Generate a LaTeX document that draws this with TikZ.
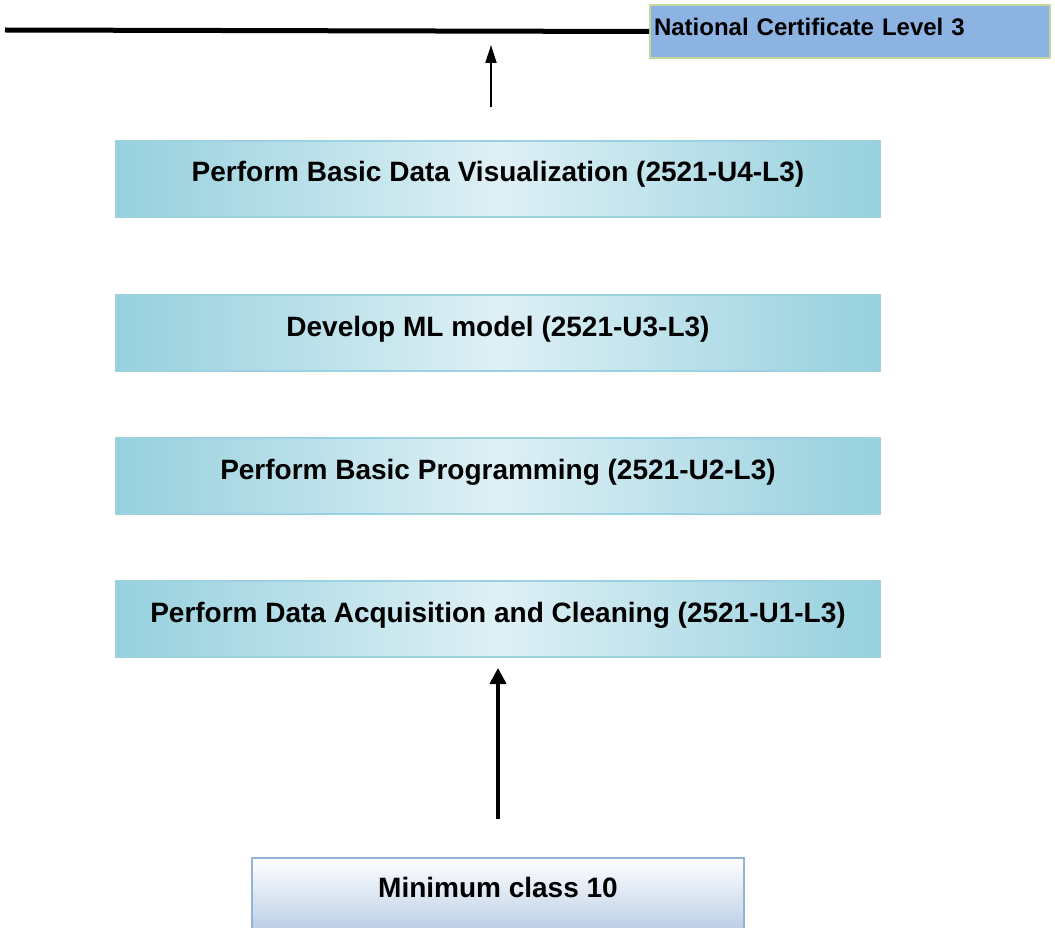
\documentclass[tikz,border=0pt]{standalone}
\usepackage{fontspec}
\setmainfont{Liberation Sans}
\usetikzlibrary{arrows.meta, positioning}
\definecolor{unitedge}{RGB}{150, 208, 222}
\definecolor{unitmid}{RGB}{222, 240, 245}
\definecolor{unitline}{RGB}{156, 210, 224}
\definecolor{certfill}{RGB}{141, 179, 226}
\definecolor{certline}{RGB}{195, 214, 155}
\definecolor{entryfill}{RGB}{185, 205, 229}
\definecolor{entryline}{RGB}{149, 179, 215}
\tikzset{
  unitblock/.style={
    rectangle, inner sep=0pt,
    minimum width=764pt, minimum height=76pt,
    text centered, font=\fontsize{28}{32}\selectfont\bfseries,
    text height=22pt, text depth=16pt,
    left color=unitedge, right color=unitedge, middle color=unitmid,
    draw=unitline, line width=2pt
  },
  certblock/.style={
    rectangle, inner xsep=4pt, inner ysep=0pt,
    minimum width=400pt, minimum height=53pt,
    text width=392pt, align=left,
    font=\fontsize{24}{28}\selectfont\bfseries,
    text height=24pt, text depth=15pt,
    fill=certfill, draw=certline, line width=2pt
  },
  entryblock/.style={
    rectangle, inner sep=0pt,
    minimum width=492pt, minimum height=74pt,
    text centered, font=\fontsize{28}{32}\selectfont\bfseries,
    text height=22pt, text depth=18pt,
    top color=white, bottom color=entryfill,
    draw=entryline, line width=2pt
  },
  arr/.style={
    -{Triangle[length=18pt, width=11pt]}, line width=2pt, color=black
  },
  thickarr/.style={
    -{Triangle[length=16pt, width=16pt]}, line width=4pt, color=black
  },
  levelline/.style={
    line width=5pt, color=black
  }
}

\begin{document}
\begin{tikzpicture}[x=1pt, y=-1pt]

  \useasboundingbox (0,0) rectangle (1055,928);

  % ── Qualification ──────────────────────────────────────────
  \node[certblock] (ncl) at (850,31.5) {National Certificate Level 3};
  \coordinate (linestart) at (5,30);

  % ── Units ──────────────────────────────────────────────────
  \node[unitblock]                   (u4) at (498,179) {Perform Basic Data Visualization (2521-U4-L3)};
  \node[unitblock, below=76pt of u4] (u3) {Develop ML model (2521-U3-L3)};
  \node[unitblock, below=65pt of u3] (u2) {Perform Basic Programming (2521-U2-L3)};
  \node[unitblock, below=65pt of u2] (u1) {Perform Data Acquisition and Cleaning (2521-U1-L3)};

  % ── Entry requirement ──────────────────────────────────────
  \node[entryblock, below=199pt of u1] (entry) {Minimum class 10};

  % ── Arrows ─────────────────────────────────────────────────
  \coordinate (upfrom) at (491,107);
  \coordinate (upto)   at (491,45);
  \draw[levelline] (linestart) -- (ncl.west);
  \draw[arr] (upfrom) -- (upto);
  \draw[thickarr, shorten <=38pt, shorten >=10pt] (entry.north) -- (u1.south);

\end{tikzpicture}
\end{document}
